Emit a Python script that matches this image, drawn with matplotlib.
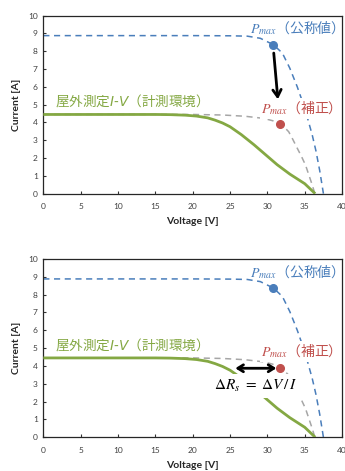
import matplotlib
matplotlib.use('Agg')
import matplotlib.pyplot as plt

# nominal I-V curve (blue dashed)
volt_nominal = [0, 10, 20, 25, 27.3, 29.05, 30.8, 32.0, 33.0, 34.0, 35.0, 36.0, 36.5, 37.0, 37.5]
curr_nominal = [8.88, 8.88, 8.88, 8.87, 8.85, 8.73, 8.37, 7.9, 7.05, 6.0, 4.8, 3.3, 2.4, 1.3, 0.0]

# corrected I-V curve (gray dashed)
volt_corr = [0, 20, 24, 27, 29.5, 30.7, 31.7, 32.3, 32.85, 33.4, 34.0, 34.55, 35.1, 35.55, 36.0, 36.35]
curr_corr = [4.45, 4.45, 4.42, 4.35, 4.23, 4.1, 3.89, 3.72, 3.48, 3.05, 2.55, 2.1, 1.61, 1.05, 0.49, 0.0]

# outdoor measured I-V curve (green)
volt_meas = [0, 15, 17, 19, 20.5, 22, 23, 24, 25, 26.5, 28.2, 30, 31.3, 33, 35, 36.4]
curr_meas = [4.45, 4.45, 4.44, 4.41, 4.36, 4.26, 4.13, 3.97, 3.76, 3.32, 2.75, 2.1, 1.63, 1.1, 0.56, 0.0]

pmax_nominal = (30.8, 8.37)
pmax_corr = (31.7, 3.9)

xticks = [0, 5, 10, 15, 20, 25, 30, 35, 40]
yticks = [0, 1, 2, 3, 4, 5, 6, 7, 8, 9, 10]

BLUE = '#4a7ebb'
RED = '#c0504d'
GRAY = '#a6a6a6'
GREEN = '#84a843'
CJK = ['Noto Sans CJK JP', 'DejaVu Sans']


def draw_panel(ax):
    ax.plot(volt_nominal, curr_nominal, color=BLUE, lw=1.1, dashes=(4, 3), zorder=2)
    ax.plot(volt_corr, curr_corr, color=GRAY, lw=1.1, dashes=(4, 3), zorder=2)
    ax.plot(volt_meas, curr_meas, color=GREEN, lw=2.0, zorder=3, solid_capstyle='butt')
    ax.plot(*pmax_nominal, 'o', color=BLUE, ms=5.5, zorder=4)
    ax.plot(*pmax_corr, 'o', color=RED, ms=5.5, zorder=4)

    ax.text(27.7, 9.3, '$P_{max}$（公称値）', color=BLUE, fontsize=10,
            family=CJK, math_fontfamily='stix', ha='left', va='center', zorder=6)
    ax.text(29.2, 4.8, '$P_{max}$（補正）', color=RED, fontsize=10,
            family=CJK, math_fontfamily='stix', ha='left', va='center', zorder=6,
            bbox=dict(boxstyle='square,pad=0.12', fc='white', ec='none'))

    ax.set_xlim(0, 40)
    ax.set_ylim(0, 10)
    ax.set_xticks(xticks)
    ax.set_yticks(yticks)
    ax.tick_params(direction='in', length=2.5, width=0.8, labelsize=6,
                   colors='#333333', labelcolor='#404040')
    ax.tick_params(axis='x', pad=7)
    ax.tick_params(axis='y', pad=4)
    for lab in ax.get_xticklabels() + ax.get_yticklabels():
        lab.set_family('Lato')
    for s in ax.spines.values():
        s.set_color('#262626')
        s.set_linewidth(0.9)
    ax.set_xlabel('Voltage [V]', fontsize=7.5, fontweight='bold', family='Lato',
                  color='#262626', labelpad=5)
    ax.set_ylabel('Current [A]', fontsize=7.5, fontweight='bold', family='Lato',
                  color='#262626', labelpad=5)


fig = plt.figure(figsize=(3.45, 4.71), dpi=100)
ax1 = fig.add_axes([0.1256, 0.5888, 0.866, 0.3779])
ax2 = fig.add_axes([0.1256, 0.0716, 0.866, 0.3786])

# top panel
draw_panel(ax1)
ax1.text(1.5, 5.25, '屋外測定$\\mathit{I}$-$\\mathit{V}$（計測環境）', color=GREEN, fontsize=9.8,
         family=CJK, math_fontfamily='dejavusans', ha='left', va='center', zorder=6)
ax1.annotate('', xy=(31.4, 5.3), xytext=(30.85, 7.9),
             arrowprops=dict(arrowstyle='->,head_length=0.5,head_width=0.3', color='black',
                             lw=2, shrinkA=0, shrinkB=0), zorder=5)

# bottom panel
draw_panel(ax2)
ax2.text(1.5, 5.18, '屋外測定$\\mathit{I}$-$\\mathit{V}$（計測環境）', color=GREEN, fontsize=9.8,
         family=CJK, math_fontfamily='dejavusans', ha='left', va='center', zorder=6)
ax2.text(28.45, 2.88, '$\\Delta R_s\\ =\\ \\Delta V\\,/\\,I$', color='black', fontsize=11,
         math_fontfamily='stix', ha='center', va='center', zorder=5,
         bbox=dict(boxstyle='square,pad=0.28', fc='white', ec='none'))
ax2.annotate('', xy=(31.2, 3.87), xytext=(25.7, 3.87),
             arrowprops=dict(arrowstyle='<->,head_length=0.4,head_width=0.25', color='black',
                             lw=2, shrinkA=0, shrinkB=0), zorder=5)

fig.savefig('out.png', dpi=100)
